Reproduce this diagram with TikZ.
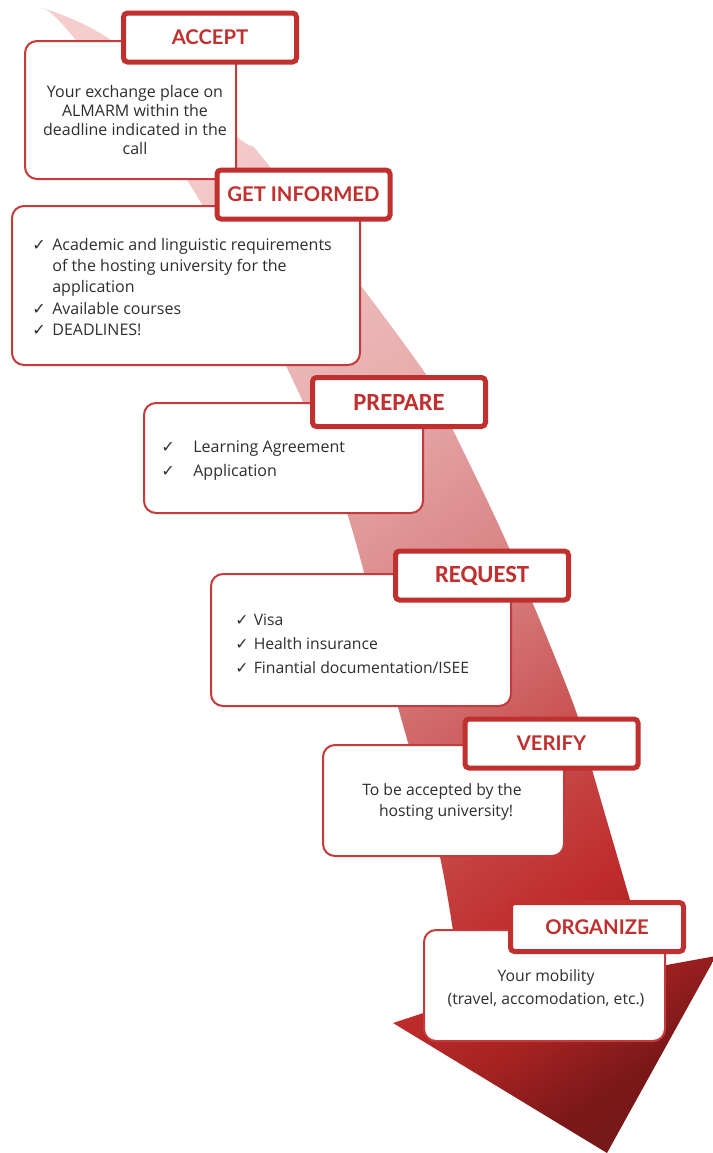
\documentclass[tikz,border=0pt]{standalone}
\usepackage{fontspec}
\setmainfont{Open Sans}
\newfontfamily\titlefont{Lato}
\newfontfamily\calfont{Carlito}
\newfontfamily\symfont{DejaVu Sans}
\definecolor{boxred}{HTML}{C0302E}
\definecolor{bodyred}{HTML}{C53A3A}
\definecolor{txt}{HTML}{2E2E2E}
\definecolor{ag1}{HTML}{F5CDCD}
\definecolor{ag2}{HTML}{E9AFAF}
\definecolor{ag3}{HTML}{D98585}
\definecolor{ag4}{HTML}{CF6464}
\definecolor{ag45}{HTML}{C44040}
\definecolor{ag5}{HTML}{BF2C2C}
\definecolor{ag55}{HTML}{A52222}
\definecolor{ag6}{HTML}{7A1818}
\definecolor{ag7}{HTML}{6E1414}
\pgfdeclareverticalshading{arrowgrad}{100bp}{color(0bp)=(ag7); color(21bp)=(ag6); color(25.5bp)=(ag55); color(30.5bp)=(ag5); color(35bp)=(ag45); color(41.4bp)=(ag4); color(47.6bp)=(ag3); color(58.4bp)=(ag2); color(75bp)=(ag1); color(100bp)=(ag1)}
\newcommand{\ck}{{\symfont\char"2713}}
\begin{document}
\begin{tikzpicture}[x=0.75pt,y=-0.75pt,
  titlebox/.style={draw=boxred, line width=3.75pt, fill=white, rounded corners=3pt,
    minimum width=129.75pt, minimum height=36.75pt, inner sep=0pt, text=boxred,
    font=\titlefont\bfseries\fontsize{15.2}{17}\selectfont},
  caltitle/.style={titlebox, font=\calfont\bfseries\fontsize{18.5}{19}\selectfont},
  bodybox/.style={draw=bodyred, line width=1.5pt, fill=white, rounded corners=9pt, inner sep=0pt},
  bodytext/.style={text=txt, inner sep=0pt, font=\fontsize{12}{14.25}\selectfont},
]
\useasboundingbox (0,0) rectangle (713,1153);
% arrow
\begin{scope}
\clip (0,0) rectangle (713,1153);
\shade[shading=arrowgrad, shading angle=35]
  plot[smooth, tension=0.55] coordinates {(42,8) (70,33) (187,180) (288,370) (347,513) (398,707) (440,857) (463,1000)}
  -- (393,1023) -- (607,1153) -- (716,956) -- (650,968)
  -- plot[smooth, tension=0.55] coordinates {(650,968) (630,900) (593,773) (573,703) (510,550) (453,430) (423,370) (270,167) (237,137) (108,38) (42,8)}
  -- cycle;
\end{scope}

% ACCEPT
\node[bodybox, minimum width=158.25pt, minimum height=103.5pt] (b1) at (130.5,110) {};
\node[bodytext, align=center] (t1) at (135,120) {Your exchange place on\\ALMARM within the\\deadline indicated in the\\call};
\node[titlebox] (h1) at (210,37.5) {ACCEPT};

% GET INFORMED
\node[bodybox, minimum width=261pt, minimum height=119.25pt] (b2) at (186,285.5) {};
\node[bodytext, anchor=west, font=\fontsize{12}{16}\selectfont] (t2) at (32,288.5)
  {\begin{tabular}{@{}l@{\hspace{5pt}}l@{}}
  \ck & Academic and linguistic requirements\\
      & of the hosting university for the\\
      & application\\
  \ck & Available courses\\
  \ck & DEADLINES!
  \end{tabular}};
\node[titlebox] (h2) at (303.5,194.5) {GET INFORMED};

% PREPARE
\node[bodybox, minimum width=209.25pt, minimum height=82.5pt] (b3) at (283.5,458) {};
\node[bodytext, anchor=west, font=\fontsize{12}{18}\selectfont] (t3) at (161,460)
  {\begin{tabular}{@{}l@{\hspace{14pt}}l@{}}
  \ck & Learning Agreement\\
  \ck & Application
  \end{tabular}};
\node[caltitle] (h3) at (399,402) {PREPARE};

% REQUEST
\node[bodybox, minimum width=225pt, minimum height=99pt] (b4) at (361,640) {};
\node[bodytext, anchor=west, font=\fontsize{11.8}{18}\selectfont] (t4) at (235,645)
  {\begin{tabular}{@{}l@{\hspace{4pt}}l@{}}
  \ck & Visa\\
  \ck & Health insurance\\
  \ck & Finantial documentation/ISEE
  \end{tabular}};
\node[caltitle] (h4) at (482,575.5) {REQUEST};

% VERIFY
\node[bodybox, minimum width=180.75pt, minimum height=83.25pt] (b5) at (443.5,800.5) {};
\node[bodytext, align=center, font=\fontsize{11.8}{16}\selectfont] (t5) at (442,802) {To be accepted by the\\\ \ hosting university!};
\node[titlebox] (h5) at (551.5,743.5) {VERIFY};

% ORGANIZE
\node[bodybox, minimum width=180.75pt, minimum height=83.25pt] (b6) at (544.5,985.5) {};
\node[bodytext, align=center, font=\fontsize{11.8}{17}\selectfont] (t6) at (546,988) {Your mobility\\(travel, accomodation, etc.)};
\node[titlebox] (h6) at (597,927) {ORGANIZE};
\end{tikzpicture}
\end{document}
